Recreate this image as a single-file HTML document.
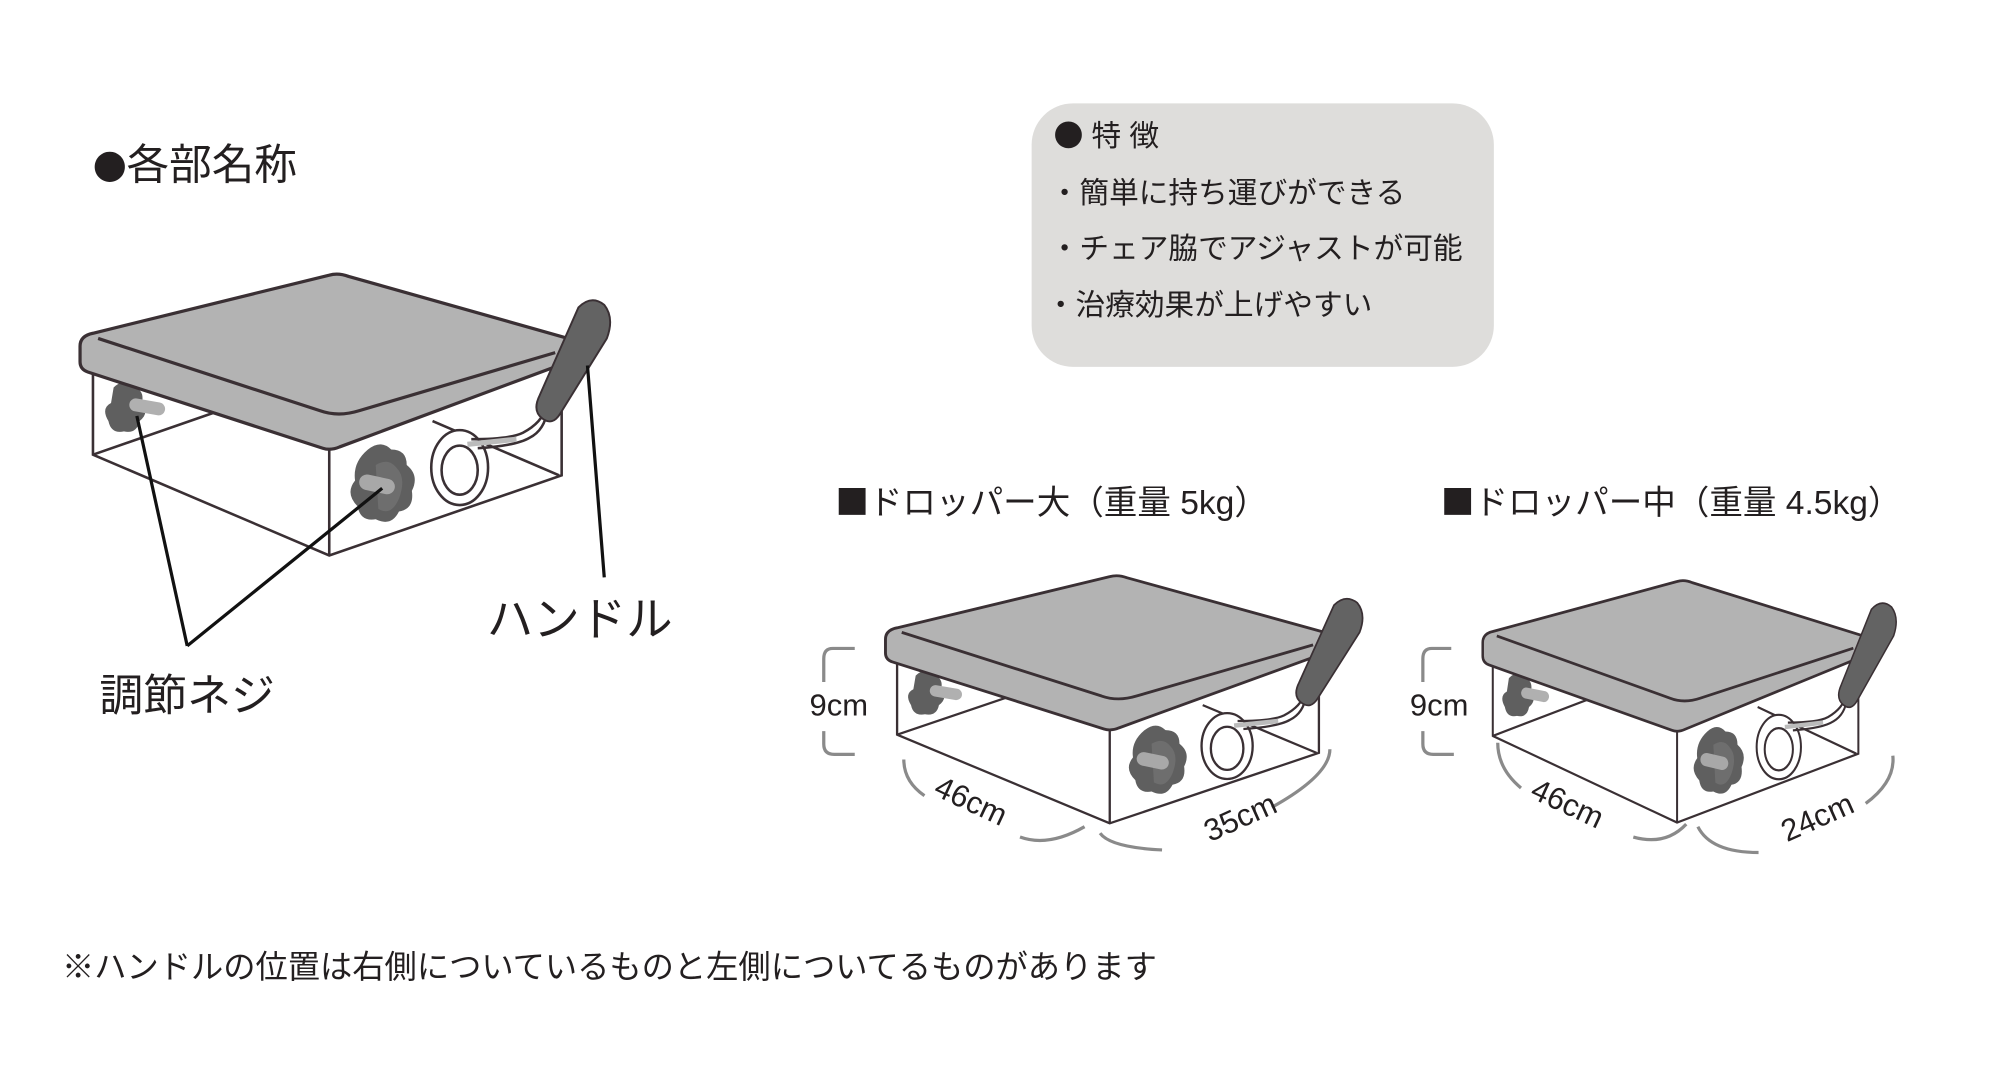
<!DOCTYPE html>
<html><head><meta charset="utf-8"><style>
html,body{margin:0;padding:0;background:#fff;}
svg{display:block;}
text{font-family:"Liberation Sans","Noto Sans CJK JP",sans-serif;fill:#231f20;}
.cj{font-family:"Noto Sans CJK JP",sans-serif;}
</style></head><body>
<svg width="2000" height="1076" viewBox="0 0 1549 833" preserveAspectRatio="none" xmlns="http://www.w3.org/2000/svg">
<defs>
<g id="box">
  <path d="M72,352 L170,318 M335,326 L433,368" stroke="#3a3034" stroke-width="2" fill="none"/>
  <path d="M72,285 L72,352 L255,430 L435,368 L435,278 M255,348 L255,430 M72,352 L255,430" stroke="#3a3034" stroke-width="2" fill="none"/>
  <path d="M88,300 q8,-8 16,0 q8,2 6,12 q6,8 -2,14 q-2,10 -12,8 q-10,2 -12,-8 q-6,-10 2,-14 z" fill="#5f5f5f"/>
  <rect x="100" y="310" width="28" height="10" rx="5" fill="#b0b0b0" transform="rotate(10 114 315)"/>
  <path d="M285,348 q10,-8 18,0 q12,0 12,12 q10,8 4,20 q2,14 -10,16 q-6,12 -18,6 q-12,2 -14,-10 q-10,-10 -2,-20 q-2,-14 10,-24 z" fill="#5f5f5f"/>
  <path d="M291,360 q10,-6 16,2 q8,8 2,24 q-6,14 -16,8 z" fill="#6e6e6e"/>
  <rect x="278" y="369" width="28" height="12" rx="6" fill="#a8a8a8" transform="rotate(12 292 375)"/>
  <ellipse cx="356" cy="362" rx="22" ry="29" fill="#fff" stroke="#3a3034" stroke-width="2"/>
  <ellipse cx="356" cy="364" rx="14" ry="19" fill="#fff" stroke="#3a3034" stroke-width="2"/>
  <path d="M365,340 q30,0 40,-5 q15,-8 18,-20" stroke="#3a3034" stroke-width="2" fill="none"/>
  <path d="M370,347 q30,-2 40,-8 q12,-6 14,-22" stroke="#3a3034" stroke-width="2" fill="none"/>
  <path d="M362,344 q20,-2 38,-4" stroke="#bbb" stroke-width="4" fill="none"/>
  <path d="M72,258 L255,213 Q262,211 270,214 L440,262 Q446,265 446,272 L446,278 L263,346 Q256,349 250,347 L68,288 Q62,286 62,280 L62,268 Q62,260 72,258 Z" fill="#b3b3b3" stroke="#3a3034" stroke-width="2.5" stroke-linejoin="round"/>
  <path d="M76,262 L248,318 Q262,323 278,318 L430,273" stroke="#3a3034" stroke-width="2.5" fill="none"/>
  <path d="M448,238 Q458,228 468,236 Q476,246 470,262 L434,320 Q428,330 420,324 Q412,318 418,306 Z" fill="#636363" stroke="#3a3034" stroke-width="1.5"/>
</g>
</defs>

<text x="72" y="139" font-size="33"><tspan class="cj" font-size="26">●</tspan>各部名称</text>

<rect x="799" y="80" width="358" height="204" rx="32" fill="#dedddb"/>
<text x="816" y="113" font-size="23"><tspan class="cj">●</tspan> 特 徴</text>
<text x="813" y="157" font-size="23">・簡単に持ち運びができる</text>
<text x="813" y="200" font-size="23">・チェア脇でアジャストが可能</text>
<text x="810" y="244" font-size="23">・治療効果が上げやすい</text>

<use href="#box"/>
<path d="M145,500 L106,322 M145,500 L296,378 M455,283 L468,447" stroke="#111" stroke-width="2.5" fill="none"/>
<text x="377" y="492" font-size="36">ハンドル</text>
<text x="77" y="550" font-size="34">調節ネジ</text>

<text x="647" y="398" font-size="26"><tspan class="cj">■</tspan>ドロッパー大（重量 5kg）</text>
<text x="1116" y="398" font-size="26"><tspan class="cj">■</tspan>ドロッパー中（重量 4.5kg）</text>

<use href="#box" transform="translate(630,259) scale(0.9,0.88)"/>
<use href="#box" transform="translate(1100,267) scale(0.78,0.86)"/>

<g stroke="#8a8a8a" stroke-width="2.5" fill="none">
  <path d="M662,502 L645,502 Q638,502 638,510 L638,528 M638,566 L638,576 Q638,584 646,584 L662,584"/>
  <path d="M1124,502 L1109,502 Q1102,502 1102,510 L1102,528 M1102,566 L1102,576 Q1102,584 1110,584 L1126,584"/>
  <path d="M700,588 Q700,605 716,616 M790,648 Q812,656 840,640"/>
  <path d="M852,645 Q860,656 900,658 M985,625 Q1030,600 1030,580"/>
  <path d="M1160,575 Q1160,595 1178,610 M1265,648 Q1290,655 1306,638"/>
  <path d="M1315,640 Q1325,660 1362,660 M1445,622 Q1468,605 1466,585"/>
</g>
<g font-size="24">
  <text x="627" y="554">9cm</text>
  <text x="1092" y="554">9cm</text>
  <text transform="translate(722,615) rotate(25)">46cm</text>
  <text transform="translate(937,652) rotate(-24)">35cm</text>
  <text transform="translate(1184,617) rotate(25)">46cm</text>
  <text transform="translate(1384,652) rotate(-24)">24cm</text>
</g>

<text x="48" y="757" font-size="25">※ハンドルの位置は右側についているものと左側についてるものがあります</text>
</svg>
</body></html>
